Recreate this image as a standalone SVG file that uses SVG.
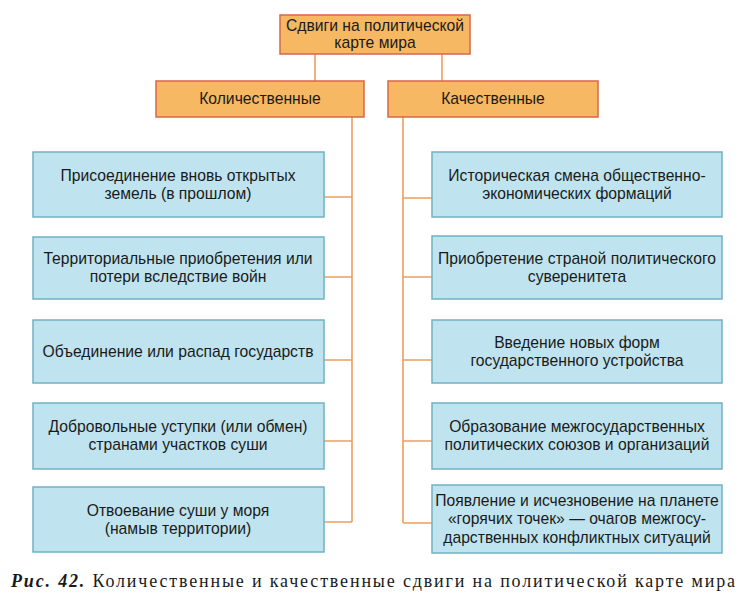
<svg xmlns="http://www.w3.org/2000/svg" width="753" height="600" viewBox="0 0 753 600">
<style>
.hdr{fill:#f6b862;stroke:#d8654c;stroke-width:1.5}
.box{fill:#bfe4ef;stroke:#6fb1c4;stroke-width:1.5}
.t{font-family:"Liberation Sans",Arial,sans-serif;font-size:15.7px;fill:#1a1a1a;text-anchor:middle}
.c{fill:none;stroke:#e9a05e;stroke-width:1.6}
.cap{font-family:"Liberation Serif","Times New Roman",serif;font-size:18px;fill:#1a1a1a}
</style>
<rect width="753" height="600" fill="#ffffff"/>
<g id="connectors">
<path class="c" d="M315 54V81M442 54V81"/>
<path class="c" d="M352 117V522M324 197H352M324 277H352M324 360H352M324 441H352M324 522H352"/>
<path class="c" d="M403 117V523M403 198H432M403 277H432M403 360H432M403 441H432M403 523H432"/>
</g>
<g id="root">
<rect class="hdr" x="280" y="15" width="190" height="39"/>
<text class="t" x="375" y="31">Сдвиги на политической</text>
<text class="t" x="375" y="48">карте мира</text>
</g>
<g id="quant">
<rect class="hdr" x="156" y="81" width="208" height="36"/>
<text class="t" x="260" y="104">Количественные</text>
</g>
<g id="qual">
<rect class="hdr" x="388" y="81" width="210" height="36"/>
<text class="t" x="493" y="104">Качественные</text>
</g>
<g id="l1">
<rect class="box" x="33" y="152" width="291" height="65"/>
<text class="t" x="178" y="181">Присоединение вновь открытых</text>
<text class="t" x="178" y="199">земель (в прошлом)</text>
</g>
<g id="l2">
<rect class="box" x="33" y="237" width="291" height="62"/>
<text class="t" x="178" y="264">Территориальные приобретения или</text>
<text class="t" x="178" y="282">потери вследствие войн</text>
</g>
<g id="l3">
<rect class="box" x="33" y="320" width="291" height="63"/>
<text class="t" x="178" y="357">Объединение или распад государств</text>
</g>
<g id="l4">
<rect class="box" x="33" y="403" width="291" height="66"/>
<text class="t" x="178" y="432">Добровольные уступки (или обмен)</text>
<text class="t" x="178" y="450">странами участков суши</text>
</g>
<g id="l5">
<rect class="box" x="33" y="487" width="291" height="65"/>
<text class="t" x="178" y="516">Отвоевание суши у моря</text>
<text class="t" x="178" y="534">(намыв территории)</text>
</g>
<g id="r1">
<rect class="box" x="432" y="152" width="290" height="65"/>
<text class="t" x="577" y="181">Историческая смена общественно-</text>
<text class="t" x="577" y="199">экономических формаций</text>
</g>
<g id="r2">
<rect class="box" x="432" y="236" width="290" height="63"/>
<text class="t" x="577" y="264">Приобретение страной политического</text>
<text class="t" x="577" y="282">суверенитета</text>
</g>
<g id="r3">
<rect class="box" x="432" y="320" width="290" height="63"/>
<text class="t" x="577" y="348">Введение новых форм</text>
<text class="t" x="577" y="366">государственного устройства</text>
</g>
<g id="r4">
<rect class="box" x="432" y="403" width="290" height="66"/>
<text class="t" x="577" y="432">Образование межгосударственных</text>
<text class="t" x="577" y="450">политических союзов и организаций</text>
</g>
<g id="r5">
<rect class="box" x="432" y="485" width="290" height="68"/>
<text class="t" x="577" y="506">Появление и исчезновение на планете</text>
<text class="t" x="577" y="524">«горячих точек» — очагов межгосу-</text>
<text class="t" x="577" y="543">дарственных конфликтных ситуаций</text>
</g>
<text class="cap" x="11" y="587" textLength="724" lengthAdjust="spacing"><tspan font-weight="bold" font-style="italic">Рис. 42.</tspan> Количественные и качественные сдвиги на политической карте мира</text>
</svg>
